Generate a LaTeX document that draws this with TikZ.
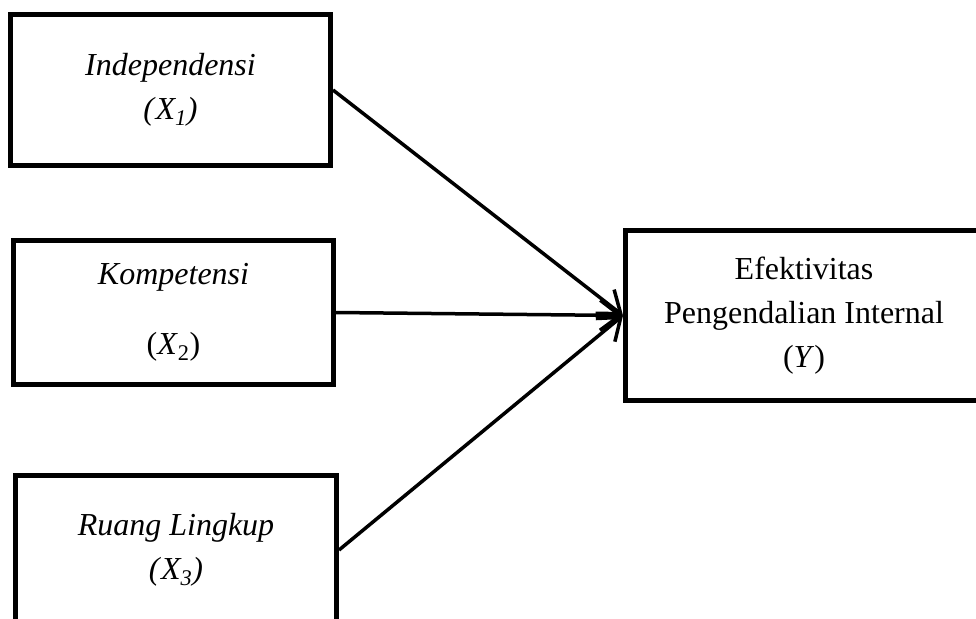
\documentclass[tikz,border=0pt]{standalone}
\usepackage{fontspec}
\setmainfont{Liberation Serif}
\usetikzlibrary{arrows.meta}
\newcommand{\varx}[1]{\textit{X\textsubscript{#1}}}

\begin{document}
\begin{tikzpicture}[x=1pt,y=-1pt,
  box/.style={draw,line width=5pt,align=center,inner sep=0pt,
    font=\fontsize{32}{44}\selectfont},
  link/.style={line width=3.5pt,-{Straight Barb[length=20pt,width=30pt,line width=3.5pt]}}]

\useasboundingbox (0,0) rectangle (976,618);
\clip (0,0) rectangle (976,618);

\node (x1) [box,minimum width=320pt,minimum height=151pt] at (170.5,90)
  {\textit{Independensi}\\\textit{(}\varx{1}\textit{)}};
\node (x2) [box,minimum width=320pt,minimum height=144pt] at (173.5,312.5)
  {\textit{Kompetensi}\\[26pt](\textit{X}\textsubscript{2})};
\node (x3) [box,minimum width=321pt,minimum height=149pt] at (176,550)
  {\textit{Ruang Lingkup}\\\textit{(}\varx{3}\textit{)}};
\node (y) [box,minimum width=357pt,minimum height=170pt] at (804,315.5)
  {Efektivitas\\Pengendalian Internal\\(\textit{Y})};

\path

(x1.east)
edge [link]
(y.west)

(x2.east)
edge [link]
(y.west)

(x3.east)
edge [link]
(y.west)

;

\end{tikzpicture}
\end{document}
